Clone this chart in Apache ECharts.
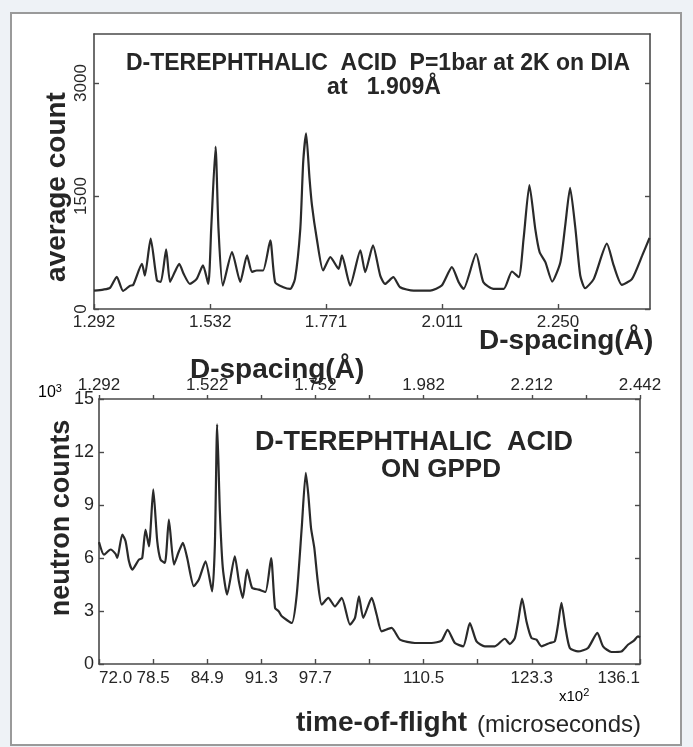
<!DOCTYPE html>
<html><head><meta charset="utf-8">
<script src="https://cdn.jsdelivr.net/npm/echarts@6/dist/echarts.min.js"></script>
<style>html,body{margin:0;padding:0;background:#eef2f6;} #c{width:693px;height:747px;}</style>
</head><body><div id="c"></div>
<script>
// ---- DIA diffractometer (top panel) ----
const topDspacing = [1.292,1.311,1.325,1.339,1.352,1.366,1.373,1.391,1.397,1.409,1.422,1.430,1.441,1.449,1.459,1.468,1.477,1.490,1.504,1.517,1.528,1.534,1.543,1.549,1.558,1.577,1.594,1.608,1.618,1.628,1.641,1.656,1.666,1.683,1.697,1.707,1.718,1.724,1.730,1.737,1.742,1.752,1.765,1.780,1.797,1.804,1.821,1.842,1.852,1.868,1.883,1.893,1.910,1.924,1.952,1.986,2.010,2.031,2.045,2.055,2.081,2.096,2.117,2.138,2.155,2.169,2.179,2.191,2.203,2.212,2.224,2.238,2.255,2.265,2.275,2.286,2.296,2.306,2.324,2.351,2.365,2.382,2.403,2.424,2.439];
const topCounts = [244,258,280,427,240,307,320,600,444,933,378,360,791,360,493,600,467,333,400,578,333,1067,2156,1067,311,756,360,711,493,511,511,911,356,289,267,400,1067,1956,2333,1733,1378,933,511,689,533,711,311,778,489,844,444,333,422,289,244,244,311,556,356,267,733,356,267,267,498,422,933,1644,1067,756,622,364,622,1111,1609,1067,444,276,400,867,578,320,400,711,942];
const topTickValues = [1.292,1.532,1.771,2.011,2.250];
const topTickLabels = ['1.292','1.532','1.771','2.011','2.250'];
const topYTicks = [0,1500,3000];
const topYLabels = ['0','1500','3000'];

// ---- GPPD time-of-flight (bottom panel) ----
const gppdTof = [72.0,72.59,73.37,73.96,74.17,74.76,75.15,75.55,75.94,76.73,77.12,77.51,77.92,78.43,78.90,79.29,79.81,80.28,80.88,81.47,81.94,82.45,83.24,83.83,84.62,85.41,85.73,86.00,86.32,86.67,87.18,88.09,88.57,89.04,89.55,90.14,90.93,91.72,92.39,92.86,93.30,93.66,94.84,95.43,96.02,96.50,96.80,97.12,97.51,97.92,98.39,99.17,99.96,100.76,101.74,102.33,102.80,103.31,104.31,104.90,105.49,106.67,107.66,109.43,111.41,112.59,113.30,114.17,115.15,115.94,116.73,117.72,118.90,120.08,120.67,121.27,121.66,122.13,122.65,123.24,123.83,124.43,125.41,126.00,126.39,126.79,127.27,127.78,128.76,129.94,131.05,131.72,132.71,133.89,134.67,135.38,135.86,136.1];
const gppdCounts = [6.9,6.19,6.48,6.23,6.0,7.33,6.95,5.81,5.34,5.91,6.0,7.61,6.66,9.88,6.95,5.91,5.72,8.18,5.63,6.38,6.86,6.0,4.40,4.78,5.81,4.11,6.76,13.56,8.65,5.44,3.93,6.10,4.68,3.74,5.34,4.31,4.21,4.08,6.0,3.17,2.98,2.70,2.32,3.93,7.71,10.82,9.59,7.71,6.57,4.68,3.36,3.74,3.26,3.74,2.23,2.61,3.83,2.61,3.74,2.79,1.85,2.04,1.38,1.19,1.19,1.32,1.94,1.19,1.0,2.32,1.28,1.0,1.0,1.43,1.13,1.47,2.41,3.70,2.41,1.47,1.38,1.0,1.19,1.28,2.23,3.46,2.04,0.91,0.71,0.91,1.76,1.0,0.68,0.71,1.09,1.32,1.56,1.5];
const tofTickValues = [72.0,78.41,84.82,91.23,97.64,104.05,110.46,116.87,123.28,129.69,136.1];
const tofLabelValues = [72.0,78.41,84.82,91.23,97.64,110.46,123.28,136.1];
const tofLabelTexts = ['72.0','78.5','84.9','91.3','97.7','110.5','123.3','136.1'];
const dTickValues = [1.292,1.407,1.522,1.637,1.752,1.867,1.982,2.097,2.212,2.327,2.442];
const dLabelValues = [1.292,1.522,1.752,1.982,2.212,2.442];
const dLabelTexts = ['1.292','1.522','1.752','1.982','2.212','2.442'];
const countTicks = [0,3,6,9,12,15];

const FONT = "'Liberation Sans', Arial, sans-serif";
const INK = '#262626';
const AX = '#4a4a4a';

function lab(values, texts) {
  return function (v) {
    const i = values.findIndex(x => Math.abs(x - v) < 1e-6);
    return i >= 0 ? texts[i] : '';
  };
}
const lineStyle = { color: AX, width: 1.6 };
const tickIn = { show: true, inside: true, length: 5, lineStyle: { color: AX, width: 1.4 } };

const chart = echarts.init(document.getElementById('c'), null, { renderer: 'canvas' });
chart.setOption({
  backgroundColor: '#eef2f6',
  animation: false,
  textStyle: { fontFamily: FONT, color: INK },
  grid: [
    { left: 94, right: 43, top: 34, bottom: 438, containLabel: false },
    { left: 99, right: 53, top: 399, bottom: 83, containLabel: false }
  ],
  xAxis: [
    { type: 'value', gridIndex: 0, position: 'bottom', min: 1.292, max: 2.44,
      axisLine: { show: true, onZero: false, lineStyle },
      axisTick: Object.assign({ customValues: topTickValues }, tickIn),
      axisLabel: { customValues: topTickValues, formatter: lab(topTickValues, topTickLabels), fontSize: 17, color: INK, margin: 5, fontFamily: FONT },
      splitLine: { show: false } },
    { type: 'value', gridIndex: 0, position: 'top', min: 1.292, max: 2.44,
      axisLine: { show: true, onZero: false, lineStyle },
      axisTick: { show: false }, axisLabel: { show: false }, splitLine: { show: false } },
    { type: 'value', gridIndex: 1, position: 'bottom', min: 72.0, max: 136.1,
      axisLine: { show: true, onZero: false, lineStyle },
      axisTick: Object.assign({ customValues: tofTickValues }, tickIn),
      axisLabel: { customValues: tofLabelValues, formatter: lab(tofLabelValues, tofLabelTexts), fontSize: 17, color: INK, margin: 6, fontFamily: FONT, alignMinLabel: 'left', alignMaxLabel: 'right' },
      splitLine: { show: false } },
    { type: 'value', gridIndex: 1, position: 'top', min: 1.292, max: 2.442,
      axisLine: { show: true, onZero: false, lineStyle },
      axisTick: { show: true, inside: false, length: 4, customValues: dTickValues, lineStyle: { color: AX, width: 1.4 } },
      axisLabel: { customValues: dLabelValues, formatter: lab(dLabelValues, dLabelTexts), fontSize: 17, color: INK, margin: 5, fontFamily: FONT },
      splitLine: { show: false } }
  ],
  yAxis: [
    { type: 'value', gridIndex: 0, position: 'left', min: 0, max: 3650,
      axisLine: { show: true, onZero: false, lineStyle },
      axisTick: Object.assign({ customValues: topYTicks }, tickIn),
      axisLabel: { customValues: topYTicks, formatter: lab(topYTicks, topYLabels), rotate: 90, fontSize: 17, color: INK, margin: 4, fontFamily: FONT },
      splitLine: { show: false } },
    { type: 'value', gridIndex: 0, position: 'right', min: 0, max: 3650,
      axisLine: { show: true, onZero: false, lineStyle },
      axisTick: Object.assign({ customValues: topYTicks }, tickIn),
      axisLabel: { show: false }, splitLine: { show: false } },
    { type: 'value', gridIndex: 1, position: 'left', min: 0, max: 15,
      axisLine: { show: true, onZero: false, lineStyle },
      axisTick: Object.assign({ customValues: countTicks }, tickIn),
      axisLabel: { customValues: countTicks, fontSize: 18, color: INK, margin: 5, fontFamily: FONT },
      splitLine: { show: false } },
    { type: 'value', gridIndex: 1, position: 'right', min: 0, max: 15,
      axisLine: { show: true, onZero: false, lineStyle },
      axisTick: Object.assign({ customValues: countTicks }, tickIn),
      axisLabel: { show: false }, splitLine: { show: false } }
  ],
  series: [
    { type: 'line', xAxisIndex: 0, yAxisIndex: 0, showSymbol: false, smooth: 0.2,
      lineStyle: { color: '#2a2a2a', width: 2.2 },
      data: topDspacing.map((d, i) => [d, topCounts[i]]) },
    { type: 'line', xAxisIndex: 2, yAxisIndex: 2, showSymbol: false, smooth: 0.2,
      lineStyle: { color: '#2a2a2a', width: 2.2 },
      data: gppdTof.map((t, i) => [t, gppdCounts[i]]) }
  ],
  graphic: [
    { type: 'rect', z: -10, shape: { x: 11, y: 13, width: 670, height: 732 },
      style: { fill: '#ffffff', stroke: '#9a9a9a', lineWidth: 2 } },
    { type: 'text', x: 378, y: 64, style: { text: 'D-TEREPHTHALIC  ACID  P=1bar at 2K on DIA', font: 'bold 23px ' + FONT, fill: INK, textAlign: 'center', textVerticalAlign: 'middle' } },
    { type: 'text', x: 384, y: 88, style: { text: 'at   1.909Å', font: 'bold 23px ' + FONT, fill: INK, textAlign: 'center', textVerticalAlign: 'middle' } },
    { type: 'text', x: 57, y: 187, rotation: Math.PI / 2, style: { text: 'average count', font: 'bold 28px ' + FONT, fill: INK, textAlign: 'center', textVerticalAlign: 'middle' } },
    { type: 'text', x: 479, y: 341, style: { text: 'D-spacing(Å)', font: 'bold 28px ' + FONT, fill: INK, textAlign: 'left', textVerticalAlign: 'middle' } },
    { type: 'text', x: 190, y: 370, style: { text: 'D-spacing(Å)', font: 'bold 28px ' + FONT, fill: INK, textAlign: 'left', textVerticalAlign: 'middle' } },
    { type: 'text', x: 38, y: 393, style: { text: '{b|10}{s|3}', rich: { b: { fontSize: 16, fontFamily: FONT, color: INK }, s: { fontSize: 11, fontFamily: FONT, color: INK, padding: [0, 0, 8, 0] } }, textVerticalAlign: 'middle' } },
    { type: 'text', x: 62, y: 518, rotation: Math.PI / 2, style: { text: 'neutron counts', font: 'bold 27px ' + FONT, fill: INK, textAlign: 'center', textVerticalAlign: 'middle' } },
    { type: 'text', x: 414, y: 443, style: { text: 'D-TEREPHTHALIC  ACID', font: 'bold 27px ' + FONT, fill: INK, textAlign: 'center', textVerticalAlign: 'middle' } },
    { type: 'text', x: 441, y: 470, style: { text: 'ON GPPD', font: 'bold 26px ' + FONT, fill: INK, textAlign: 'center', textVerticalAlign: 'middle' } },
    { type: 'text', x: 559, y: 697, style: { text: '{b|x10}{s|2}', rich: { b: { fontSize: 15, fontFamily: FONT, color: INK }, s: { fontSize: 11, fontFamily: FONT, color: INK, padding: [0, 0, 8, 0] } }, textVerticalAlign: 'middle' } },
    { type: 'text', x: 296, y: 723, style: { text: 'time-of-flight', font: 'bold 28px ' + FONT, fill: INK, textAlign: 'left', textVerticalAlign: 'middle' } },
    { type: 'text', x: 477, y: 725, style: { text: '(microseconds)', font: '24px ' + FONT, fill: INK, textAlign: 'left', textVerticalAlign: 'middle' } }
  ]
});
</script></body></html>
